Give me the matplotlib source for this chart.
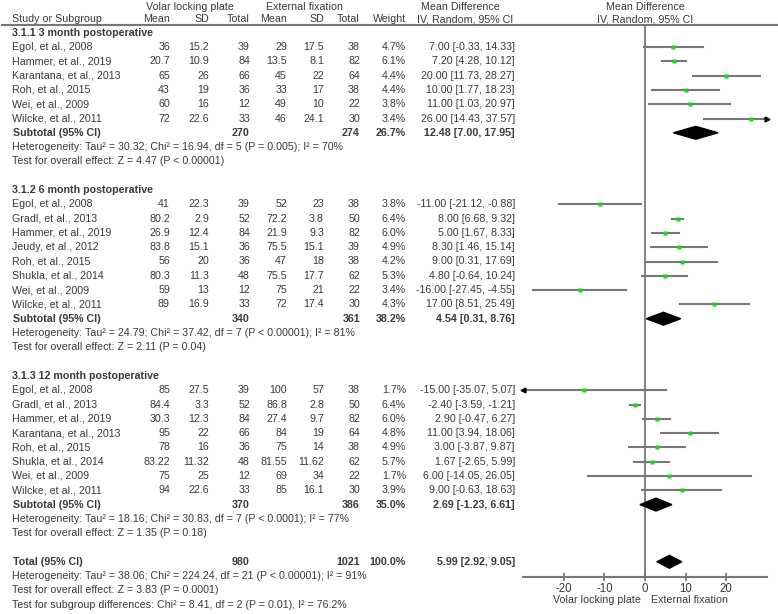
import numpy as np
import matplotlib.pyplot as plt
from matplotlib.patches import Polygon

plt.rcParams['font.family'] = ['Liberation Sans', 'DejaVu Sans']
plt.rcParams['axes.unicode_minus'] = False

# --- datos: 3 meses ---
m3_study = ['Egol, et al., 2008', 'Hammer, et al., 2019', 'Karantana, et al., 2013',
            'Roh, et al., 2015', 'Wei, et al., 2009', 'Wilcke, et al., 2011']
m3_vlp_mean = [36, 20.7, 65, 43, 60, 72]
m3_vlp_sd = [15.2, 10.9, 26, 19, 16, 22.6]
m3_vlp_n = [39, 84, 66, 36, 12, 33]
m3_ef_mean = [29, 13.5, 45, 33, 49, 46]
m3_ef_sd = [17.5, 8.1, 22, 17, 10, 24.1]
m3_ef_n = [38, 82, 64, 38, 22, 30]
m3_weight = [4.7, 6.1, 4.4, 4.4, 3.8, 3.4]
m3_md = [7.00, 7.20, 20.00, 10.00, 11.00, 26.00]
m3_lo = [-0.33, 4.28, 11.73, 1.77, 1.03, 14.43]
m3_hi = [14.33, 10.12, 28.27, 18.23, 20.97, 37.57]

# --- datos: 6 meses ---
m6_study = ['Egol, et al., 2008', 'Gradl, et al., 2013', 'Hammer, et al., 2019', 'Jeudy, et al., 2012',
            'Roh, et al., 2015', 'Shukla, et al., 2014', 'Wei, et al., 2009', 'Wilcke, et al., 2011']
m6_vlp_mean = [41, 80.2, 26.9, 83.8, 56, 80.3, 59, 89]
m6_vlp_sd = [22.3, 2.9, 12.4, 15.1, 20, 11.3, 13, 16.9]
m6_vlp_n = [39, 52, 84, 36, 36, 48, 12, 33]
m6_ef_mean = [52, 72.2, 21.9, 75.5, 47, 75.5, 75, 72]
m6_ef_sd = [23, 3.8, 9.3, 15.1, 18, 17.7, 21, 17.4]
m6_ef_n = [38, 50, 82, 39, 38, 62, 22, 30]
m6_weight = [3.8, 6.4, 6.0, 4.9, 4.2, 5.3, 3.4, 4.3]
m6_md = [-11.00, 8.00, 5.00, 8.30, 9.00, 4.80, -16.00, 17.00]
m6_lo = [-21.12, 6.68, 1.67, 1.46, 0.31, -0.64, -27.45, 8.51]
m6_hi = [-0.88, 9.32, 8.33, 15.14, 17.69, 10.24, -4.55, 25.49]

# --- datos: 12 meses ---
m12_study = ['Egol, et al., 2008', 'Gradl, et al., 2013', 'Hammer, et al., 2019', 'Karantana, et al., 2013',
             'Roh, et al., 2015', 'Shukla, et al., 2014', 'Wei, et al., 2009', 'Wilcke, et al., 2011']
m12_vlp_mean = [85, 84.4, 30.3, 95, 78, 83.22, 75, 94]
m12_vlp_sd = [27.5, 3.3, 12.3, 22, 16, 11.32, 25, 22.6]
m12_vlp_n = [39, 52, 84, 66, 36, 48, 12, 33]
m12_ef_mean = [100, 86.8, 27.4, 84, 75, 81.55, 69, 85]
m12_ef_sd = [57, 2.8, 9.7, 19, 14, 11.62, 34, 16.1]
m12_ef_n = [38, 50, 82, 64, 38, 62, 22, 30]
m12_weight = [1.7, 6.4, 6.0, 4.8, 4.9, 5.7, 1.7, 3.9]
m12_md = [-15.00, -2.40, 2.90, 11.00, 3.00, 1.67, 6.00, 9.00]
m12_lo = [-35.07, -3.59, -0.47, 3.94, -3.87, -2.65, -14.05, -0.63]
m12_hi = [5.07, -1.21, 6.27, 18.06, 9.87, 5.99, 26.05, 18.63]

# subtotales
sub_title = ['3.1.1 3 month postoperative', '3.1.2 6 month postoperative', '3.1.3 12 month postoperative']
sub_vlp_n = [270, 340, 370]
sub_ef_n = [274, 361, 386]
sub_weight = [26.7, 38.2, 35.0]
sub_md = [12.48, 4.54, 2.69]
sub_lo = [7.00, 0.31, -1.23]
sub_hi = [17.95, 8.76, 6.61]
sub_het = ['Heterogeneity: Tau² = 30.32; Chi² = 16.94, df = 5 (P = 0.005); I² = 70%',
           'Heterogeneity: Tau² = 24.79; Chi² = 37.42, df = 7 (P < 0.00001); I² = 81%',
           'Heterogeneity: Tau² = 18.16; Chi² = 30.83, df = 7 (P < 0.0001); I² = 77%']
sub_test = ['Test for overall effect: Z = 4.47 (P < 0.00001)',
            'Test for overall effect: Z = 2.11 (P = 0.04)',
            'Test for overall effect: Z = 1.35 (P = 0.18)']

# total
tot_vlp_n, tot_ef_n, tot_weight = 980, 1021, 100.0
tot_md, tot_lo, tot_hi = 5.99, 2.92, 9.05
tot_notes = ['Heterogeneity: Tau² = 38.06; Chi² = 224.24, df = 21 (P < 0.00001); I² = 91%',
             'Test for overall effect: Z = 3.83 (P = 0.0001)',
             'Test for subgroup differences: Chi² = 8.41, df = 2 (P = 0.01), I² = 76.2%']

groups = [
    (m3_study, m3_vlp_mean, m3_vlp_sd, m3_vlp_n, m3_ef_mean, m3_ef_sd, m3_ef_n, m3_weight, m3_md, m3_lo, m3_hi),
    (m6_study, m6_vlp_mean, m6_vlp_sd, m6_vlp_n, m6_ef_mean, m6_ef_sd, m6_ef_n, m6_weight, m6_md, m6_lo, m6_hi),
    (m12_study, m12_vlp_mean, m12_vlp_sd, m12_vlp_n, m12_ef_mean, m12_ef_sd, m12_ef_n, m12_weight, m12_md, m12_lo, m12_hi),
]

# geometria (pixeles)
W, H = 778, 614
Y0, STEP = 47, 14.3          # centro de la primera fila y alto de fila
def row(px):
    return (px - Y0) / STEP

FS = 7.7
TXT = '#3a3a3a'
GRAY = '#777777'
XMAX = 30

fig = plt.figure(figsize=(W / 100, H / 100), dpi=100)
tx = fig.add_axes([0, 0, 1, 1])
tx.set_xlim(0, W)
tx.set_ylim(row(H), row(0))
tx.axis('off')

ax_l, ax_r, ax_t, ax_b = 523, 767, 24, 577
ax = fig.add_axes([ax_l / W, (H - ax_b) / H, (ax_r - ax_l) / W, (ax_b - ax_t) / H])
ax.set_xlim(-XMAX, XMAX)
ax.set_ylim(row(ax_b), row(ax_t))
ax.patch.set_alpha(0)

# columnas (borde derecho de numeros)
c_name = 12
c_cols = [170, 209, 250, 287, 324, 360, 406]
c_md = 515

def t(x, r, s, ha='right', bold=False):
    tx.text(x, r, s, ha=ha, va='center', fontsize=FS, color=TXT,
            fontweight='bold' if bold else 'normal')

# encabezado
h1, h2 = row(6.5), row(19.5)
t(190, h1, 'Volar locking plate', ha='center')
t(305, h1, 'External fixation', ha='center')
t(460, h1, 'Mean Difference', ha='center')
t(645, h1, 'Mean Difference', ha='center')
t(c_name, h2, 'Study or Subgroup', ha='left')
for x, s in zip(c_cols, ['Mean', 'SD', 'Total', 'Mean', 'SD', 'Total', 'Weight']):
    t(x, h2, s)
t(465, h2, 'IV, Random, 95% CI', ha='center')
t(645, h2, 'IV, Random, 95% CI', ha='center')
tx.axhline(row(24.5), xmin=2 / W, xmax=1, color=GRAY, lw=1.5)

def diamond(r, md, lo, hi):
    ax.add_patch(Polygon([[lo, r], [md, r - 0.45], [hi, r], [md, r + 0.45]],
                         closed=True, color='black', zorder=3))

r = -1
for g, data in enumerate(groups):
    study, vm, vs, vn, em, es, en, w, md, lo, hi = data
    t(c_name, r, sub_title[g], ha='left', bold=True)
    for i in range(len(study)):
        r += 1
        t(c_name, r, study[i], ha='left')
        vals = [f'{vm[i]:g}', f'{vs[i]:g}', f'{vn[i]}', f'{em[i]:g}', f'{es[i]:g}', f'{en[i]}', f'{w[i]:.1f}%']
        for x, s in zip(c_cols, vals):
            t(x, r, s)
        t(c_md, r, f'{md[i]:.2f} [{lo[i]:.2f}, {hi[i]:.2f}]')
        ax.plot([max(lo[i], -XMAX), min(hi[i], XMAX)], [r, r], color=GRAY, lw=1.5, zorder=2)
        if hi[i] > XMAX:
            ax.plot(XMAX, r, marker='>', color='black', ms=3.5, clip_on=False, zorder=3)
        if lo[i] < -XMAX:
            ax.plot(-XMAX, r, marker='<', color='black', ms=3.5, clip_on=False, zorder=3)
        ax.plot(md[i], r, marker='s', color='#11dd11', mec='none', ms=2.8, zorder=4)
    r += 1
    t(c_name + 1, r, 'Subtotal (95% CI)', ha='left', bold=True)
    t(c_cols[2], r, f'{sub_vlp_n[g]}', bold=True)
    t(c_cols[5], r, f'{sub_ef_n[g]}', bold=True)
    t(c_cols[6], r, f'{sub_weight[g]:.1f}%', bold=True)
    t(c_md, r, f'{sub_md[g]:.2f} [{sub_lo[g]:.2f}, {sub_hi[g]:.2f}]', bold=True)
    diamond(r, sub_md[g], sub_lo[g], sub_hi[g])
    t(c_name, r + 1, sub_het[g], ha='left')
    t(c_name, r + 2, sub_test[g], ha='left')
    r += 4

t(c_name + 1, r, 'Total (95% CI)', ha='left', bold=True)
t(c_cols[2], r, f'{tot_vlp_n}', bold=True)
t(c_cols[5], r, f'{tot_ef_n}', bold=True)
t(c_cols[6], r, f'{tot_weight:.1f}%', bold=True)
t(c_md, r, f'{tot_md:.2f} [{tot_lo:.2f}, {tot_hi:.2f}]', bold=True)
diamond(r, tot_md, tot_lo, tot_hi)
for k, s in enumerate(tot_notes):
    t(c_name, r + 1 + k, s, ha='left')

# eje del forest plot
ax.axvline(0, color=GRAY, lw=1.3, zorder=1)
for side in ['top', 'left', 'right']:
    ax.spines[side].set_visible(False)
ax.spines['bottom'].set_color(GRAY)
ax.spines['bottom'].set_linewidth(1.5)
ax.set_yticks([])
ax.set_xticks([-20, -10, 0, 10, 20])
ax.tick_params(axis='x', direction='inout', length=6, width=1.3, color=GRAY,
               labelsize=FS + 0.6, labelcolor=TXT, pad=1)
t(641, row(600), 'Volar locking plate')
t(651, row(600), 'External fixation', ha='left')

plt.savefig('out.png', dpi=100)
